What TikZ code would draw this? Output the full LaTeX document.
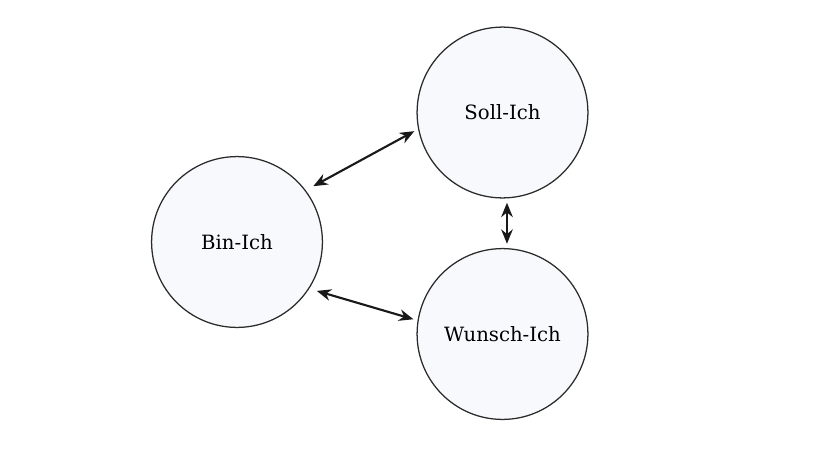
\documentclass[tikz,border=0pt]{standalone}
\usepackage{fontspec}
\setmainfont{DejaVu Serif}
\usepackage{tikz}
\usetikzlibrary{arrows.meta,positioning}
\definecolor{ichfill}{HTML}{F8F9FD}
\definecolor{ichline}{HTML}{2B2B2B}

\begin{document}
\begin{tikzpicture}[
  x=0.025cm, y=-0.025cm,
  >={Stealth[length=3.6mm,width=2.9mm]},
  ich/.style={
    circle,
    draw=ichline,
    fill=ichfill,
    line width=0.9pt,
    minimum size=4.27cm,
    inner sep=0pt,
    outer sep=0pt,
    font=\fontsize{14}{16}\selectfont
  },
  link/.style={
    <->,
    line width=1.5pt,
    black!90,
    shorten <=3.5pt,
    shorten >=3.5pt
  }
]

\useasboundingbox (0,0) rectangle (820,460);

% the three circles
\node[ich] (bin) at (237,242) {Bin-Ich};
\node[ich] (soll) at (502.5,112.5) {Soll-Ich};
\node[ich] (wunsch) at (502.5,334) {Wunsch-Ich};

% connections
\draw[link, shorten <=6.5pt] (bin.37) -- (soll.191);
\draw[link, shorten <=6pt] (bin.-33) -- (wunsch.171);
\draw[link] (soll.-87) -- (wunsch.87);

\end{tikzpicture}
\end{document}
